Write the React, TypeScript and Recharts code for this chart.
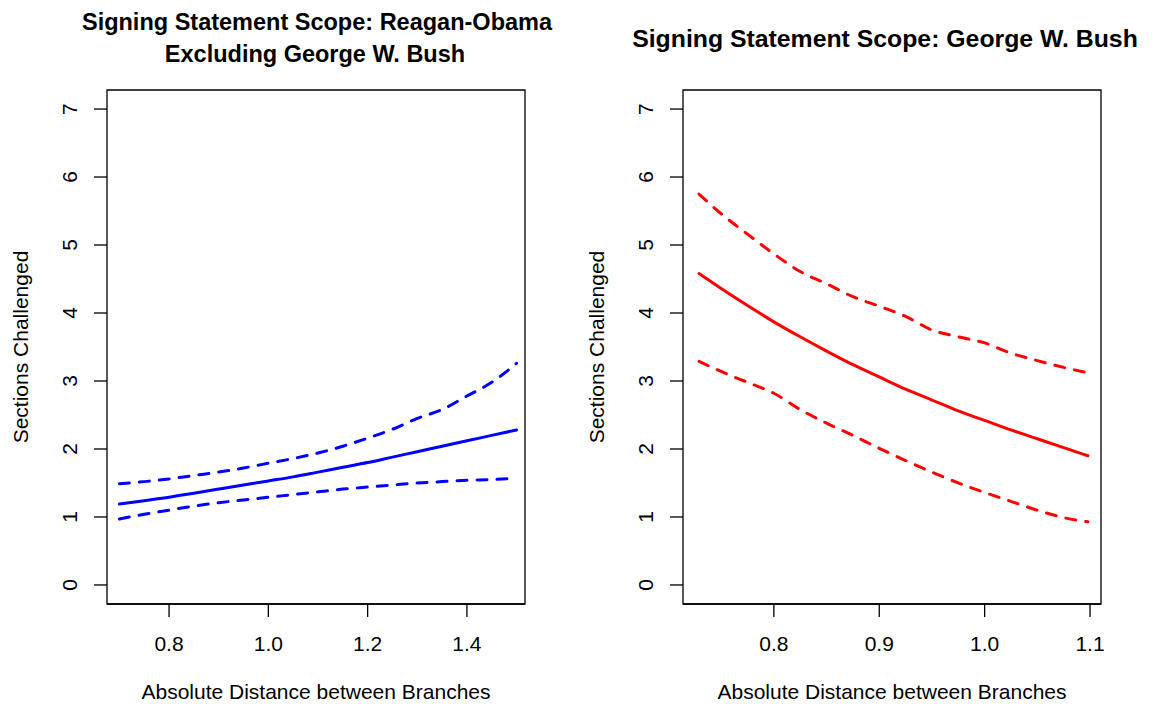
import React from "react";
import { LineChart, Line, XAxis, YAxis, ReferenceArea } from "recharts";

// Reagan–Obama (excluding G. W. Bush): predicted sections challenged with interval bounds
const leftDistance = [0.7, 0.75, 0.8, 0.85, 0.9, 0.95, 1.0, 1.05, 1.1, 1.15, 1.2, 1.25, 1.3, 1.35, 1.4, 1.45, 1.5];
const leftFit = [1.19, 1.24, 1.29, 1.35, 1.41, 1.47, 1.53, 1.59, 1.66, 1.73, 1.8, 1.88, 1.96, 2.04, 2.12, 2.2, 2.28];
const leftUpper = [1.49, 1.52, 1.56, 1.61, 1.66, 1.72, 1.79, 1.86, 1.94, 2.04, 2.16, 2.29, 2.45, 2.58, 2.78, 2.98, 3.26];
const leftLower = [0.97, 1.04, 1.1, 1.16, 1.21, 1.25, 1.29, 1.33, 1.37, 1.41, 1.44, 1.47, 1.5, 1.52, 1.54, 1.55, 1.57];

// George W. Bush
const rightDistance = [0.729, 0.75, 0.775, 0.8, 0.825, 0.85, 0.875, 0.9, 0.925, 0.95, 0.975, 1.0, 1.025, 1.05, 1.075, 1.098];
const rightFit = [4.58, 4.36, 4.11, 3.87, 3.65, 3.44, 3.24, 3.06, 2.88, 2.72, 2.56, 2.42, 2.28, 2.15, 2.02, 1.9];
const rightUpper = [5.75, 5.46, 5.16, 4.87, 4.61, 4.43, 4.24, 4.1, 3.95, 3.75, 3.65, 3.56, 3.41, 3.3, 3.2, 3.12];
const rightLower = [3.29, 3.14, 2.98, 2.82, 2.58, 2.38, 2.2, 2.01, 1.83, 1.66, 1.5, 1.36, 1.23, 1.1, 0.99, 0.93];

const yTicks = [0, 1, 2, 3, 4, 5, 6, 7];
const leftXTicks = [0.8, 1.0, 1.2, 1.4];
const rightXTicks = [0.8, 0.9, 1.0, 1.1];

const leftTitle = ["Signing Statement Scope: Reagan-Obama", "Excluding George W. Bush"];
const rightTitle = "Signing Statement Scope: George W. Bush";
const xTitle = "Absolute Distance between Branches";
const yTitle = "Sections Challenged";

const FONT = "'Liberation Sans', Arial, Helvetica, sans-serif";
const AXIS_FONT = 21;
const TITLE_FONT = 23.5;
const RIGHT_TITLE_FONT = 24.8;

const buildRows = (xs: number[], fit: number[], up: number[], lo: number[]) =>
  xs.map((x, i) => ({ x, fit: fit[i], upper: up[i], lower: lo[i] }));

const leftRows = buildRows(leftDistance, leftFit, leftUpper, leftLower);
const rightRows = buildRows(rightDistance, rightFit, rightUpper, rightLower);

const XTick = (props: any) => {
  const { x, y, payload } = props;
  return (
    <text x={x} y={y} dy={14} textAnchor="middle" fontSize={AXIS_FONT} fontFamily={FONT} fill="#000">
      {Number(payload.value).toFixed(1)}
    </text>
  );
};

const YTick = (props: any) => {
  const { x, y, payload } = props;
  return (
    <text
      x={x}
      y={y}
      transform={`rotate(-90 ${x} ${y})`}
      textAnchor="middle"
      fontSize={AXIS_FONT}
      fontFamily={FONT}
      fill="#000"
    >
      {payload.value}
    </text>
  );
};

const PANEL_W = 578;
const PANEL_H = 704;
const PLOT_W = 418;
const Y_AXIS_W = 50;
const X_AXIS_H = 60;
const Y_DOMAIN: [number, number] = [-0.28, 7.28];

function Panel({
  rows,
  xDomain,
  xTicks,
  color,
  plotLeft,
}: {
  rows: any[];
  xDomain: [number, number];
  xTicks: number[];
  color: string;
  plotLeft: number;
}) {
  return (
    <LineChart
      width={PANEL_W}
      height={PANEL_H}
      data={rows}
      margin={{
        top: 90,
        bottom: 100 - X_AXIS_H,
        left: plotLeft - Y_AXIS_W,
        right: PANEL_W - plotLeft - PLOT_W,
      }}
    >
      <XAxis
        dataKey="x"
        type="number"
        domain={xDomain}
        ticks={xTicks}
        height={X_AXIS_H}
        tickSize={13}
        tickMargin={20}
        tick={<XTick />}
        axisLine={{ stroke: "#000", strokeWidth: 1.3 }}
        tickLine={{ stroke: "#000", strokeWidth: 1.3 }}
        allowDataOverflow
        interval={0}
      />
      <YAxis
        type="number"
        domain={Y_DOMAIN}
        ticks={yTicks}
        width={Y_AXIS_W}
        tickSize={13}
        tickMargin={17}
        tick={<YTick />}
        axisLine={false}
        tickLine={{ stroke: "#000", strokeWidth: 1.3 }}
        allowDataOverflow
        interval={0}
      />
      <ReferenceArea
        x1={xDomain[0]}
        x2={xDomain[1]}
        y1={Y_DOMAIN[0]}
        y2={Y_DOMAIN[1]}
        fill="none"
        fillOpacity={0}
        stroke="#000"
        strokeWidth={1.3}
        ifOverflow="visible"
      />
      <Line
        dataKey="upper"
        type="monotone"
        stroke={color}
        strokeWidth={3}
        strokeDasharray="10 10"
        strokeLinecap="round"
        dot={false}
        isAnimationActive={false}
      />
      <Line
        dataKey="lower"
        type="monotone"
        stroke={color}
        strokeWidth={3}
        strokeDasharray="10 10"
        strokeLinecap="round"
        dot={false}
        isAnimationActive={false}
      />
      <Line
        dataKey="fit"
        type="monotone"
        stroke={color}
        strokeWidth={3}
        strokeLinecap="round"
        dot={false}
        isAnimationActive={false}
      />
    </LineChart>
  );
}

export default function App() {
  return (
    <div
      style={{
        position: "absolute",
        left: 0,
        top: 0,
        width: 1156,
        height: 704,
        background: "#fff",
        overflow: "hidden",
      }}
    >
      <div style={{ position: "absolute", left: 0, top: 0 }}>
        <Panel rows={leftRows} xDomain={[0.675, 1.517]} xTicks={leftXTicks} color="#0000FF" plotLeft={107} />
      </div>
      <div style={{ position: "absolute", left: PANEL_W, top: 0 }}>
        <Panel rows={rightRows} xDomain={[0.7138, 1.1104]} xTicks={rightXTicks} color="#FF0000" plotLeft={105} />
      </div>
      <svg
        width={1156}
        height={704}
        style={{ position: "absolute", left: 0, top: 0, pointerEvents: "none" }}
        fontFamily={FONT}
      >
        <text x={317} y={30} textAnchor="middle" fontSize={TITLE_FONT} fontWeight="bold" fill="#000">
          {leftTitle[0]}
        </text>
        <text x={315} y={62} textAnchor="middle" fontSize={TITLE_FONT} fontWeight="bold" fill="#000">
          {leftTitle[1]}
        </text>
        <text x={885} y={47} textAnchor="middle" fontSize={RIGHT_TITLE_FONT} fontWeight="bold" fill="#000">
          {rightTitle}
        </text>
        <text x={316} y={699} textAnchor="middle" fontSize={AXIS_FONT} fill="#000">
          {xTitle}
        </text>
        <text x={892} y={699} textAnchor="middle" fontSize={AXIS_FONT} fill="#000">
          {xTitle}
        </text>
        <text x={28} y={347} textAnchor="middle" fontSize={AXIS_FONT} fill="#000" transform="rotate(-90 28 347)">
          {yTitle}
        </text>
        <text x={604} y={347} textAnchor="middle" fontSize={AXIS_FONT} fill="#000" transform="rotate(-90 604 347)">
          {yTitle}
        </text>
      </svg>
    </div>
  );
}
